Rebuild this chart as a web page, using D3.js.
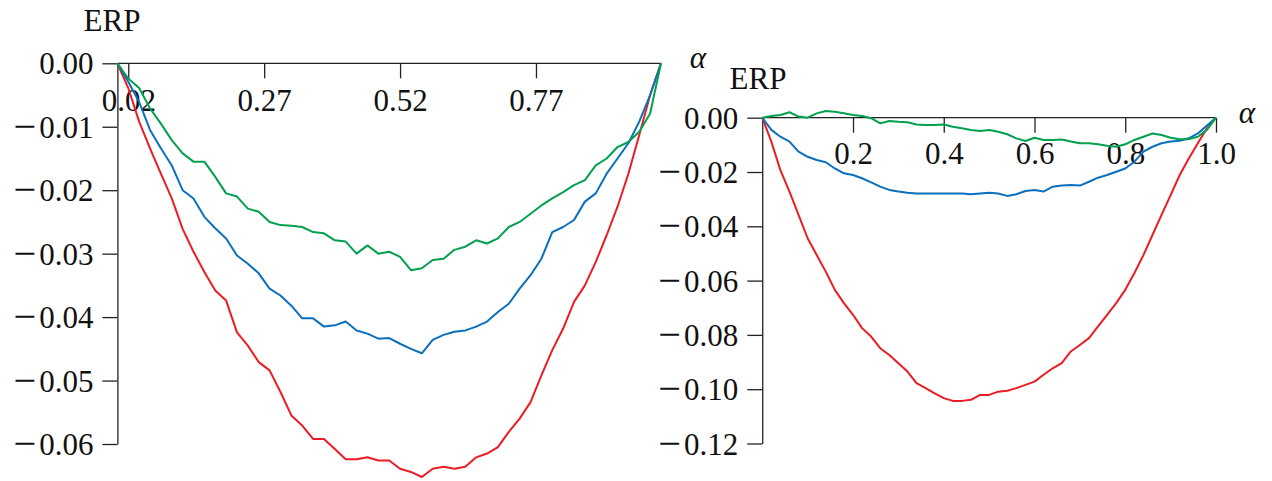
<!DOCTYPE html>
<html>
<head>
<meta charset="utf-8">
<script src="https://cdn.jsdelivr.net/npm/d3@7"></script>
<style>
  html, body { margin: 0; padding: 0; background: #fff; }
  svg { display: block; }
  text { font-family: "Liberation Serif", "DejaVu Serif", serif; fill: #111; }
</style>
</head>
<body>
<svg id="chart" width="1272" height="481"></svg>
<script>
// ---------- data ----------
const leftAlpha = [0,0.02,0.04,0.06,0.08,0.10,0.12,0.14,0.16,0.18,0.20,0.22,0.24,0.26,0.28,0.30,0.32,0.34,0.36,0.38,0.40,0.42,0.44,0.46,0.48,0.50,0.52,0.54,0.56,0.58,0.60,0.62,0.64,0.66,0.68,0.70,0.72,0.74,0.76,0.78,0.80,0.82,0.84,0.86,0.88,0.90,0.92,0.94,0.96,0.98,1.00];
const leftRed = [0,-0.0039,-0.0092,-0.0134,-0.0174,-0.0213,-0.0261,-0.0297,-0.0329,-0.0358,-0.0374,-0.0424,-0.0445,-0.0471,-0.0484,-0.0518,-0.0555,-0.0571,-0.0592,-0.0592,-0.0608,-0.0624,-0.0624,-0.0621,-0.0626,-0.0626,
  -0.0639,-0.0644,-0.0652,-0.0639,-0.0636,-0.0639,-0.0636,-0.0621,-0.0615,-0.0605,-0.0581,-0.0560,-0.0534,-0.0492,-0.0452,-0.0418,-0.0376,-0.0350,-0.0313,-0.0271,-0.0226,-0.0174,-0.0113,-0.0050,0];
const leftBlue = [0,-0.0029,-0.0061,-0.0105,-0.0134,-0.0161,-0.0200,-0.0213,-0.0242,-0.0260,-0.0276,-0.0303,-0.0316,-0.0331,-0.0355,-0.0366,-0.0382,-0.0402,-0.0402,-0.0415,-0.0413,-0.0407,-0.0421,-0.0426,-0.0434,-0.0433,
  -0.0442,-0.0450,-0.0457,-0.0436,-0.0428,-0.0423,-0.0421,-0.0415,-0.0407,-0.0392,-0.0379,-0.0355,-0.0334,-0.0308,-0.0266,-0.0258,-0.0247,-0.0218,-0.0205,-0.0174,-0.0150,-0.0126,-0.0092,-0.0050,0];
const leftGreen = [0,-0.0024,-0.0039,-0.0071,-0.0095,-0.0121,-0.0142,-0.0155,-0.0155,-0.0179,-0.0205,-0.0210,-0.0229,-0.0234,-0.0250,-0.0255,-0.0256,-0.0258,-0.0266,-0.0268,-0.0279,-0.0281,-0.0300,-0.0287,-0.0300,-0.0297,
  -0.0305,-0.0326,-0.0323,-0.0310,-0.0308,-0.0294,-0.0289,-0.0279,-0.0284,-0.0276,-0.0258,-0.0250,-0.0237,-0.0224,-0.0213,-0.0203,-0.0192,-0.0184,-0.0161,-0.0150,-0.0132,-0.0124,-0.0108,-0.0079,0];
const leftXTicks = [0.02, 0.27, 0.52, 0.77];
const leftYTicks = [0, -0.01, -0.02, -0.03, -0.04, -0.05, -0.06];

const rightAlpha = [0,0.02,0.04,0.06,0.08,0.10,0.12,0.14,0.16,0.18,0.20,0.22,0.24,0.26,0.28,0.30,0.32,0.34,0.36,0.38,0.40,0.42,0.44,0.46,0.48,0.50,0.52,0.54,0.56,0.58,0.60,0.62,0.64,0.66,0.68,0.70,0.72,0.74,0.76,0.78,0.80,0.82,0.84,0.86,0.88,0.90,0.92,0.94,0.96,0.98,1.00];
const rightRed = [0,-0.0088,-0.0193,-0.0272,-0.0358,-0.0444,-0.0506,-0.0567,-0.0634,-0.0683,-0.0726,-0.0775,-0.0806,-0.0849,-0.0874,-0.0904,-0.0935,-0.0978,-0.0996,-0.1015,-0.1033,-0.1043,-0.1043,-0.1039,-0.1021,-0.1021,
  -0.1009,-0.1006,-0.0996,-0.0984,-0.0972,-0.0947,-0.0923,-0.0904,-0.0861,-0.0837,-0.0812,-0.0769,-0.0726,-0.0683,-0.0634,-0.0573,-0.0506,-0.0432,-0.0358,-0.0285,-0.0211,-0.0150,-0.0094,-0.0039,0];
const rightBlue = [0,-0.0045,-0.0070,-0.0088,-0.0125,-0.0144,-0.0156,-0.0164,-0.0187,-0.0205,-0.0211,-0.0223,-0.0238,-0.0254,-0.0266,-0.0272,-0.0276,-0.0279,-0.0279,-0.0279,-0.0279,-0.0279,-0.0279,-0.0282,-0.0279,-0.0276,
  -0.0279,-0.0288,-0.0282,-0.0270,-0.0266,-0.0272,-0.0254,-0.0250,-0.0248,-0.0250,-0.0236,-0.0221,-0.0211,-0.0199,-0.0187,-0.0162,-0.0125,-0.0107,-0.0094,-0.0088,-0.0085,-0.0076,-0.0058,-0.0029,0];
const rightGreen = [0,0.0006,0.0010,0.0020,0.0004,0,0.0016,0.0025,0.0022,0.0016,0.0010,0.0006,-0.0002,-0.0021,-0.0012,-0.0015,-0.0017,-0.0025,-0.0027,-0.0027,-0.0025,-0.0033,-0.0039,-0.0045,-0.0049,-0.0045,
  -0.0052,-0.0061,-0.0076,-0.0086,-0.0074,-0.0082,-0.0082,-0.0080,-0.0088,-0.0094,-0.0094,-0.0098,-0.0103,-0.0107,-0.0098,-0.0082,-0.0070,-0.0058,-0.0064,-0.0074,-0.0079,-0.0079,-0.0070,-0.0045,0];
const rightXTicks = [0.2, 0.4, 0.6, 0.8, 1.0];
const rightYTicks = [0, -0.02, -0.04, -0.06, -0.08, -0.10, -0.12];

const seriesColors = ["#ec1c24", "#0a6fbd", "#00a14e"];

// ---------- layout ----------
const panels = [
  { alpha: leftAlpha, series: [leftRed, leftBlue, leftGreen], xTicks: leftXTicks, yTicks: leftYTicks,
    xFmt: ".2f", yFmt: ".2f", xRange: [117.4, 661], yDomain: [0, -0.06], yRange: [63.3, 444],
    xLabelOffset: 37, alphaPos: [698, 62], erpPos: [112, 20] },
  { alpha: rightAlpha, series: [rightRed, rightBlue, rightGreen], xTicks: rightXTicks, yTicks: rightYTicks,
    xFmt: ".1f", yFmt: ".2f", xRange: [762.25, 1216], yDomain: [0, -0.12], yRange: [117.7, 443.5],
    xLabelOffset: 35, alphaPos: [1247, 117], erpPos: [758, 78] }
];

const svg = d3.select("#chart");
const FS = 31;

panels.forEach(p => {
  const x = d3.scaleLinear().domain([0, 1]).range(p.xRange);
  const y = d3.scaleLinear().domain(p.yDomain).range(p.yRange);
  const g = svg.append("g");

  // x axis (at y=0)
  const xAxis = d3.axisBottom(x).tickValues(p.xTicks).tickFormat(d3.format(p.xFmt))
    .tickSize(15).tickSizeOuter(0);
  const gx = g.append("g").attr("transform", `translate(0,${y(0)})`).call(xAxis);
  gx.select(".domain").attr("d", `M${x(0)},0H${x(1)}`);
  gx.selectAll("text").attr("y", p.xLabelOffset).attr("dy", "0.35em")
    .style("font-size", FS + "px").style("font-family", "Liberation Serif").attr("fill", "#111");

  // y axis
  const yf = d3.format(p.yFmt);
  const yAxis = d3.axisLeft(y).tickValues(p.yTicks).tickFormat(d => yf(Math.abs(d)))
    .tickSize(15).tickSizeOuter(0).tickPadding(9);
  const gy = g.append("g").attr("transform", `translate(${x(0)},0)`).call(yAxis);
  gy.selectAll("text").attr("dy", (FS * 0.34) + "px")
    .style("font-size", FS + "px").style("font-family", "Liberation Serif").attr("fill", "#111")
    .each(function(d) {
      if (d < 0) {
        const t = d3.select(this);
        const num = t.text();
        t.text(null);
        t.append("tspan").text("\u2212").style("font-size", (FS * 1.3) + "px").attr("dy", (FS * 0.34 + 2) + "px");
        t.append("tspan").attr("dx", 3).attr("dy", "-2px").text(num);
      }
    });

  g.selectAll(".domain, .tick line").attr("stroke", "#222").attr("stroke-width", 1.3);

  // lines
  const line = d3.line().x((d, i) => x(p.alpha[i])).y(d => y(d));
  p.series.forEach((s, si) => {
    g.append("path").datum(s).attr("d", line)
      .attr("fill", "none").attr("stroke", seriesColors[si])
      .attr("stroke-width", 2).attr("stroke-linejoin", "round");
  });

  // labels
  g.append("text").attr("x", p.alphaPos[0]).attr("y", p.alphaPos[1]).attr("dy", "0.2em")
    .attr("text-anchor", "middle").style("font-style", "italic").style("font-size", FS + "px").text("α");
  g.append("text").attr("x", p.erpPos[0]).attr("y", p.erpPos[1]).attr("dy", "0.35em")
    .attr("text-anchor", "middle").style("font-size", FS + "px").text("ERP");
});
</script>
</body>
</html>
